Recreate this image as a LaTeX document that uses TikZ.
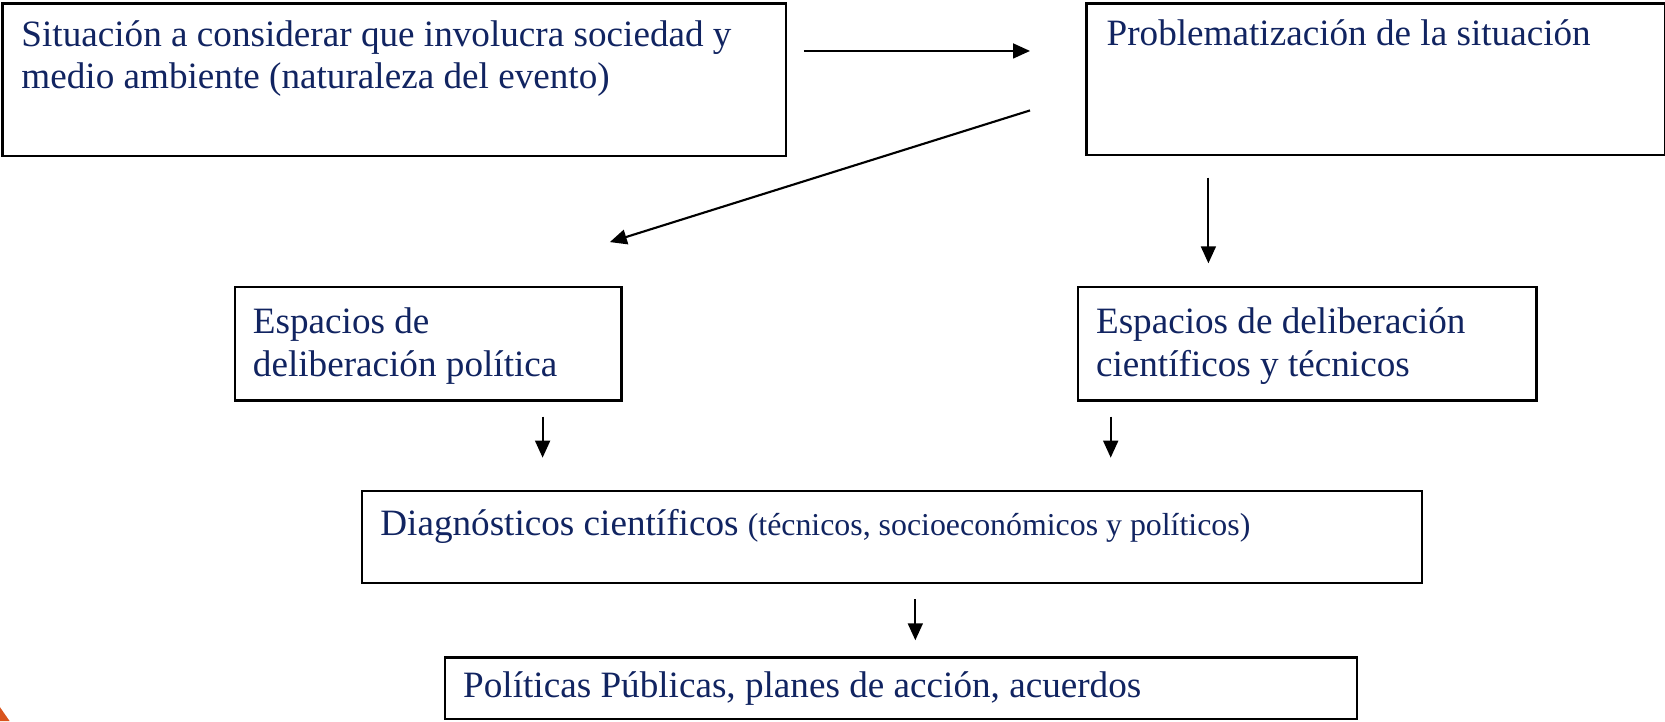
\documentclass[tikz,border=0pt]{standalone}
\usepackage{fontspec}
\setmainfont{Liberation Serif}
\usetikzlibrary{arrows.meta,calc}
\definecolor{navy}{RGB}{17,36,97}
\definecolor{orng}{RGB}{217,84,30}
\begin{document}
\begin{tikzpicture}[x=1pt,y=-1pt,
  box/.style={draw=black,line width=2.3pt,inner sep=0pt,anchor=north west},
  txt/.style={text=navy,font=\fontsize{35}{40}\selectfont,inner sep=0pt,align=left,anchor=north west},
  arr/.style={-{Triangle[length=16pt,width=14pt]},line width=2pt}]
\useasboundingbox (0,0) rectangle (1568,679);
% boxes
\node[box,minimum width=738pt,minimum height=144pt] (A) at (1,2) {};
\node[box,minimum width=545pt,minimum height=143pt] (B) at (1022,2) {};
\node[box,minimum width=364pt,minimum height=107pt] (C) at (220,269) {};
\node[box,minimum width=432pt,minimum height=107pt] (D) at (1014,269) {};
\node[box,minimum width=998pt,minimum height=87pt] (E) at (340,461) {};
\node[box,minimum width=859pt,minimum height=58pt] (F) at (418,618) {};
% texts
\node[txt] (tA) at (20,19) {Situación a considerar que involucra sociedad y\\medio ambiente (naturaleza del evento)};
\node[txt] (tB) at (1042,18) {Problematización de la situación};
\node[txt] (tC) at (238,290) {Espacios de\\deliberación política};
\node[txt] (tD) at (1032,290) {Espacios de deliberación\\científicos y técnicos};
\node[txt] (tE) at (358,479) {Diagnósticos científicos {\fontsize{30}{36}\selectfont(técnicos, socioeconómicos y políticos)}};
\node[txt] (tF) at (436,632) {Políticas Públicas, planes de acción, acuerdos};
% connectors
\draw[arr] ($(A.north west)+(756,46)$) -- ($(B.north west)+(-52,46)$);
\draw[arr] ($(B.north west)+(-52,102)$) -- ($(C.north east)+(-12,-41)$);
\draw[arr] ($(B.south west)+(116,20)$) -- ($(D.north west)+(124,-21)$);
\draw[arr] ($(C.south west)+(291,14)$) -- ($(E.north west)+(171,-30)$);
\draw[arr] ($(D.south west)+(32,14)$) -- ($(E.north west)+(706,-30)$);
\draw[arr] ($(E.south west)+(522,14)$) -- ($(F.north west)+(444,-15)$);
% orange corner fragment
\fill[orng] (0,666) -- (9,679) -- (0,679) -- cycle;
\end{tikzpicture}
\end{document}
